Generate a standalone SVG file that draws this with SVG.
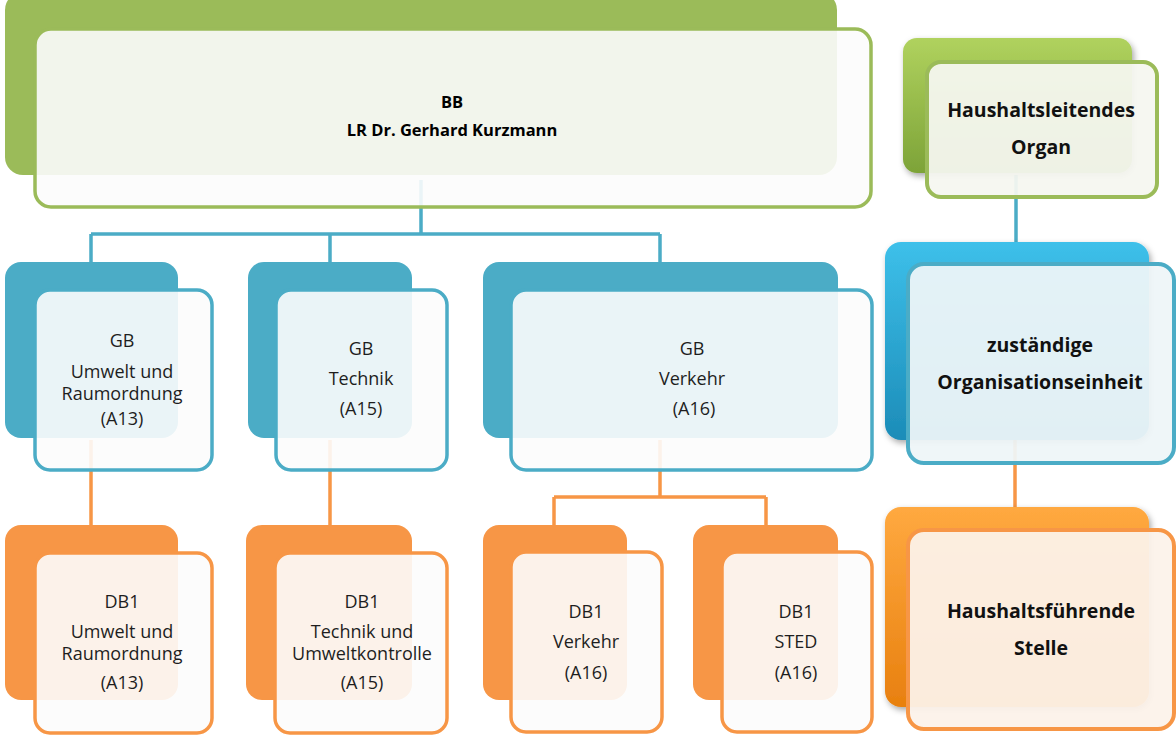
<svg xmlns="http://www.w3.org/2000/svg" width="1176" height="736" viewBox="0 0 1176 736">
<defs>
<linearGradient id="gG" x1="0" y1="0" x2="0" y2="1"><stop offset="0" stop-color="#B0D25E"/><stop offset="1" stop-color="#7DA338"/></linearGradient>
<linearGradient id="gB" x1="0" y1="0" x2="0" y2="1"><stop offset="0" stop-color="#3DC0EA"/><stop offset="1" stop-color="#1C8CB8"/></linearGradient>
<linearGradient id="gO" x1="0" y1="0" x2="0" y2="1"><stop offset="0" stop-color="#FFA940"/><stop offset="1" stop-color="#E8800F"/></linearGradient>
<filter id="sh" x="-10%" y="-10%" width="130%" height="130%"><feDropShadow dx="2" dy="3" stdDeviation="3" flood-color="#000" flood-opacity="0.35"/></filter>
<style>
.bg{stroke:none}
.g{fill:#9BBB59}.b{fill:#4BACC6}.o{fill:#F79646}
.fr{fill:#FCFCFC;fill-opacity:0.9;stroke-width:3.5}
.fg{stroke:#9BBB59}.fb{stroke:#4BACC6}.fo{stroke:#F79646}
.lf{stroke-width:4}
.lfg{fill:#F5F7F0;fill-opacity:0.94;stroke:#9BBB59}
.lfb{fill:#EEF5F8;fill-opacity:0.94;stroke:#4BACC6}
.lfo{fill:#FCF2EA;fill-opacity:0.94;stroke:#F79646}
.t{font-family:"Open Sans","Liberation Sans",sans-serif;font-size:18px;fill:#1e1e1e;text-anchor:middle}
.tb{font-family:"Open Sans","Liberation Sans",sans-serif;font-size:16.5px;font-weight:bold;fill:#000;text-anchor:middle}
.tl{font-family:"Open Sans","Liberation Sans",sans-serif;font-size:19.5px;font-weight:bold;fill:#111;text-anchor:middle}
.cb{stroke:#4BACC6;stroke-width:3.5;fill:none}
.co{stroke:#F79646;stroke-width:3.5;fill:none}
</style>
</defs>
<rect width="1176" height="736" fill="#FFFFFF"/>
<g id="connectors">
<path class="cb" d="M421 180 V234 M91 234 H660 M91 234 V262 M330 234 V262 M660 234 V262"/>
<path class="co" d="M91 440 V525 M330 440 V525 M660 440 V497 M554 497 H766 M554 497 V525 M766 497 V525"/>
<path class="cb" d="M1016 175 V242"/>
<path class="co" d="M1015 440 V507"/>
</g>
<g id="bb">
<rect class="bg g" x="5" y="-8" width="832" height="183" rx="18"/>
<rect class="fr fg" x="35" y="29" width="836" height="178" rx="16"/>
<text class="tb" x="452" y="108">BB</text>
<text class="tb" x="452" y="136">LR Dr. Gerhard Kurzmann</text>
</g>
<g id="gb1">
<rect class="bg b" x="5" y="262" width="173" height="176" rx="16"/>
<rect class="fr fb" x="35" y="290" width="177" height="180" rx="15"/>
<text class="t" x="122" y="347">GB</text>
<text class="t" x="122" y="378">Umwelt und</text>
<text class="t" x="122" y="400">Raumordnung</text>
<text class="t" x="122" y="425">(A13)</text>
</g>
<g id="gb2">
<rect class="bg b" x="248" y="262" width="164" height="176" rx="16"/>
<rect class="fr fb" x="276" y="290" width="171" height="180" rx="15"/>
<text class="t" x="361" y="355">GB</text>
<text class="t" x="361" y="385">Technik</text>
<text class="t" x="361" y="415">(A15)</text>
</g>
<g id="gb3">
<rect class="bg b" x="483" y="262" width="355" height="176" rx="16"/>
<rect class="fr fb" x="511" y="290" width="361" height="180" rx="15"/>
<text class="t" x="692" y="355">GB</text>
<text class="t" x="692" y="385">Verkehr</text>
<text class="t" x="694" y="415">(A16)</text>
</g>
<g id="db1">
<rect class="bg o" x="5" y="525" width="173" height="175" rx="16"/>
<rect class="fr fo" x="35" y="553" width="177" height="180" rx="15"/>
<text class="t" x="122" y="608">DB1</text>
<text class="t" x="122" y="638">Umwelt und</text>
<text class="t" x="122" y="660">Raumordnung</text>
<text class="t" x="122" y="689">(A13)</text>
</g>
<g id="db2">
<rect class="bg o" x="246" y="525" width="166" height="175" rx="16"/>
<rect class="fr fo" x="275" y="553" width="172" height="180" rx="15"/>
<text class="t" x="362" y="608">DB1</text>
<text class="t" x="362" y="638">Technik und</text>
<text class="t" x="362" y="660">Umweltkontrolle</text>
<text class="t" x="362" y="689">(A15)</text>
</g>
<g id="db3">
<rect class="bg o" x="483" y="525" width="144" height="175" rx="16"/>
<rect class="fr fo" x="511" y="552" width="151" height="180" rx="15"/>
<text class="t" x="586" y="618">DB1</text>
<text class="t" x="586" y="648">Verkehr</text>
<text class="t" x="586" y="679">(A16)</text>
</g>
<g id="db4">
<rect class="bg o" x="693" y="525" width="145" height="175" rx="16"/>
<rect class="fr fo" x="722" y="552" width="150" height="180" rx="15"/>
<text class="t" x="796" y="618">DB1</text>
<text class="t" x="796" y="648">STED</text>
<text class="t" x="796" y="679">(A16)</text>
</g>
<g id="legend-organ">
<rect x="903" y="38" width="229" height="135" rx="14" fill="url(#gG)" filter="url(#sh)"/>
<rect class="lf lfg" x="927" y="62" width="230" height="135" rx="14"/>
<text class="tl" x="1041" y="117">Haushaltsleitendes</text>
<text class="tl" x="1041" y="154">Organ</text>
</g>
<g id="legend-oe">
<rect x="885" y="242" width="264" height="198" rx="16" fill="url(#gB)" filter="url(#sh)"/>
<rect class="lf lfb" x="908" y="264" width="266" height="199" rx="16"/>
<text class="tl" x="1040" y="352">zuständige</text>
<text class="tl" x="1040" y="389">Organisationseinheit</text>
</g>
<g id="legend-stelle">
<rect x="885" y="507" width="264" height="200" rx="16" fill="url(#gO)" filter="url(#sh)"/>
<rect class="lf lfo" x="908" y="530" width="266" height="199" rx="16"/>
<text class="tl" x="1041" y="618">Haushaltsführende</text>
<text class="tl" x="1041" y="655">Stelle</text>
</g>
</svg>
